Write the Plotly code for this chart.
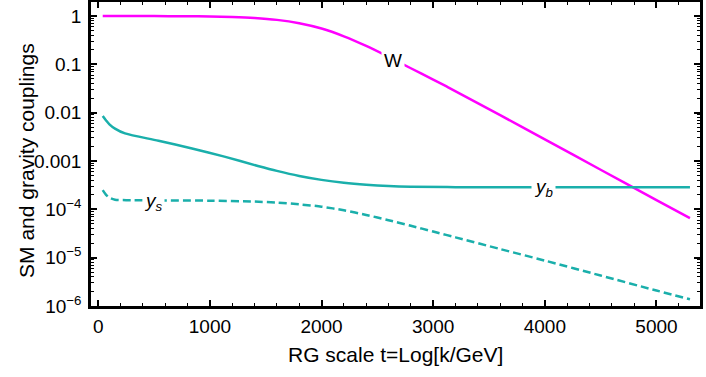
import plotly.graph_objects as go

# ---- data ----
t_w = [40, 500, 800, 1000, 1200, 1400, 1600, 1800, 2000, 2200, 2400, 2600, 2800,
       3000, 3130, 3600, 4000, 4500, 5000, 5300]
w_vals = [1.0, 0.995, 0.99, 0.977, 0.955, 0.912, 0.832, 0.708, 0.55, 0.38, 0.24,
          0.143, 0.083, 0.0484, 0.0339, 8.9e-3, 2.8e-3, 6.6e-4, 1.55e-4, 6.6e-5]

t_yb = [40, 70, 100, 150, 240, 540, 840, 1130, 1430, 1600, 1800, 2000, 2200, 2400,
        2600, 2800, 3200, 5300]
yb_vals = [8.5e-3, 6.9e-3, 5.75e-3, 4.68e-3, 3.72e-3, 2.63e-3, 1.82e-3, 1.23e-3,
           7.9e-4, 6.24e-4, 4.9e-4, 4.07e-4, 3.55e-4, 3.24e-4, 3.05e-4, 2.95e-4,
           2.88e-4, 2.88e-4]

t_ys = [40, 70, 100, 150, 250, 1000, 1400, 1600, 1800, 2000, 2200, 2400, 2600,
        2800, 3000, 3200, 3600, 4000, 4500, 5000, 5300]
ys_vals = [2.5e-4, 2.0e-4, 1.74e-4, 1.58e-4, 1.55e-4, 1.51e-4, 1.445e-4, 1.38e-4,
           1.27e-4, 1.135e-4, 9.55e-5, 7.67e-5, 5.96e-5, 4.57e-5, 3.47e-5, 2.63e-5,
           1.51e-5, 8.7e-6, 4.27e-6, 2.09e-6, 1.38e-6]

x_ticks = [0, 1000, 2000, 3000, 4000, 5000]
y_ticks = [1e-6, 1e-5, 1e-4, 1e-3, 1e-2, 1e-1, 1]
y_ticktext = ["10<sup>\u22126</sup>", "10<sup>\u22125</sup>", "10<sup>\u22124</sup>",
              "0.001", "0.01", "0.1", "1"]

MAGENTA = "#ff00ff"
TEAL = "#1aafab"
FONT = "Liberation Sans, Arial, sans-serif"

fig = go.Figure()
fig.add_trace(go.Scatter(x=t_w, y=w_vals, mode="lines",
                         line=dict(color=MAGENTA, width=2.5, shape="spline", smoothing=0.8)))
fig.add_trace(go.Scatter(x=t_yb, y=yb_vals, mode="lines",
                         line=dict(color=TEAL, width=2.5, shape="spline", smoothing=0.8)))
fig.add_trace(go.Scatter(x=t_ys, y=ys_vals, mode="lines",
                         line=dict(color=TEAL, width=2.5, dash="8px,4px",
                                   shape="spline", smoothing=0.8)))

minor_y = [m * 10.0 ** e for e in range(-6, 1) for m in range(2, 10)]

fig.update_layout(
    width=706, height=377,
    margin=dict(l=91, r=6, t=2, b=71, autoexpand=False),
    paper_bgcolor="white", plot_bgcolor="white",
    showlegend=False,
    font=dict(family=FONT, color="black", size=19),
    xaxis=dict(range=[-65, 5390], showgrid=False, zeroline=False, automargin=False,
               showline=True, linecolor="black", linewidth=2.5, mirror="ticks",
               ticks="inside", ticklen=6, tickwidth=1.5, tickcolor="black",
               tickvals=x_ticks, ticktext=[str(v) for v in x_ticks],
               ticklabelstandoff=1,
               tickfont=dict(family=FONT, size=19, color="black"),
               minor=dict(ticks="inside", ticklen=3, tickwidth=1, tickcolor="black",
                          dtick=200, tick0=0, showgrid=False)),
    yaxis=dict(type="log", range=[-6, 0.29], showgrid=False, zeroline=False,
               automargin=False,
               showline=True, linecolor="black", linewidth=2.5, mirror="ticks",
               ticks="inside", ticklen=6, tickwidth=1.5, tickcolor="black",
               tickvals=y_ticks, ticktext=y_ticktext,
               ticklabelstandoff=3,
               tickfont=dict(family=FONT, size=19, color="black"),
               minor=dict(ticks="inside", ticklen=3, tickwidth=1, tickcolor="black",
                          tickvals=minor_y, showgrid=False)),
)

ann_font = dict(family=FONT, size=19, color="black")
fig.add_annotation(x=2644, y=-0.925, text="W", showarrow=False, bgcolor="white",
                   borderpad=2, font=ann_font)
fig.add_annotation(x=3990, y=-3.56, text="<i>y<sub>b</sub></i>", showarrow=False,
                   bgcolor="white", borderpad=2, font=ann_font)
fig.add_annotation(x=498, y=-3.85, text="<i>y<sub>s</sub></i>", showarrow=False,
                   bgcolor="white", borderpad=1, font=ann_font)

# axis titles
fig.add_annotation(xref="paper", yref="paper", x=0.5, y=-0.161,
                   text="RG scale t=Log[k/GeV]", showarrow=False,
                   xanchor="center", yanchor="middle",
                   font=dict(family=FONT, size=21, color="black"))
fig.add_annotation(xref="paper", yref="paper", x=-0.107, y=0.48,
                   text="SM and gravity couplings", showarrow=False, textangle=-90,
                   xanchor="center", yanchor="middle",
                   font=dict(family=FONT, size=21, color="black"))

fig.write_html("out.html", config={"displayModeBar": False},
               post_script="document.body.style.margin='0';document.body.style.padding='0';")
